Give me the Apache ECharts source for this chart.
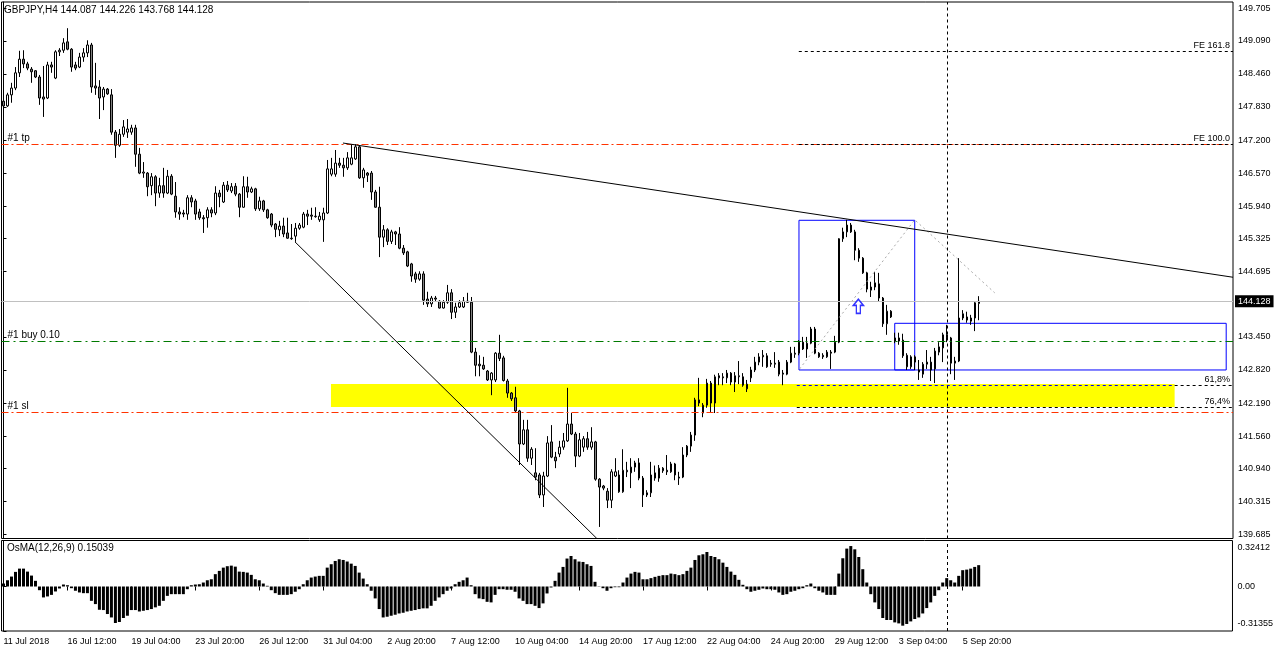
<!DOCTYPE html>
<html><head><meta charset="utf-8">
<script src="https://cdn.jsdelivr.net/npm/echarts@6/dist/echarts.min.js"></script>
<style>html,body{margin:0;padding:0;background:#fff;}#c{width:1276px;height:652px;}</style>
</head><body><div id="c"></div>
<script>
// ---- data ----
const symbolTitle = 'GBPJPY,H4 144.087 144.226 143.768 144.128';
const osmaTitle = 'OsMA(12,26,9) 0.15039';
const timeTicks = ['11 Jul 2018','16 Jul 12:00','19 Jul 04:00','23 Jul 20:00','26 Jul 12:00','31 Jul 04:00','2 Aug 20:00','7 Aug 12:00','10 Aug 04:00','14 Aug 20:00','17 Aug 12:00','22 Aug 04:00','24 Aug 20:00','29 Aug 12:00','3 Sep 04:00','5 Sep 20:00'];
const priceTicks = [149.705,149.090,148.460,147.830,147.200,146.570,145.940,145.325,144.695,143.450,142.820,142.190,141.560,140.940,140.315,139.685];
const osmaTicks = [-0.31355, 0, 0.32412];

const open = [147.94,147.85,148.06,148.19,148.48,148.74,148.65,148.55,148.52,148.40,
148.02,148.00,148.63,148.38,148.88,148.91,149.07,148.93,148.63,148.59,
148.78,148.86,149.01,148.23,148.21,148.02,148.17,148.06,147.35,147.10,
147.31,147.35,147.35,147.43,146.93,146.57,146.57,146.33,146.50,146.19,
146.33,146.19,146.51,146.13,145.83,145.81,145.79,146.10,146.04,145.83,
145.72,145.72,145.87,145.81,146.19,146.02,146.34,146.23,146.32,146.17,
145.92,146.31,146.21,146.27,145.89,146.04,145.87,145.79,145.60,145.49,
145.56,145.43,145.33,145.37,145.52,145.54,145.79,145.77,145.74,145.68,
145.68,145.81,146.55,146.55,146.76,146.72,146.67,146.74,146.84,147.07,
146.48,146.57,146.57,146.21,145.92,145.35,145.49,145.27,145.45,145.41,
145.14,145.07,144.84,144.65,144.55,144.65,144.17,144.08,144.19,144.13,
144.00,144.11,144.29,143.92,144.02,144.02,144.13,144.11,143.16,142.93,
142.91,142.80,142.63,142.63,143.14,143.05,142.61,142.38,142.29,142.04,
141.41,141.68,141.14,140.86,140.82,140.44,140.80,141.45,141.16,141.22,
141.35,141.47,141.79,141.60,141.18,141.35,141.51,141.35,141.45,140.74,
140.61,140.51,140.34,140.80,140.82,140.50,140.88,140.86,140.97,141.05,
140.76,140.48,140.48,140.86,140.76,140.90,140.91,140.88,141.03,140.78,
140.78,141.20,141.37,141.58,142.25,142.00,142.15,142.57,142.19,142.67,
142.67,142.67,142.76,142.59,142.69,142.69,142.46,142.67,142.82,142.97,
143.07,143.09,142.93,142.93,142.97,142.74,142.74,142.97,143.12,143.14,
143.35,143.22,143.33,143.60,143.14,143.07,143.07,143.16,143.16,143.35,
145.32,145.45,145.58,145.45,145.10,144.95,144.67,144.34,144.40,144.46,
144.19,143.70,143.94,143.37,143.43,143.39,143.10,142.88,143.07,142.82,
142.74,142.93,142.97,142.84,143.16,143.24,143.49,143.43,142.95,142.99,
143.81,143.77,143.81,143.81,144.087];

const close = [147.85,148.06,148.19,148.48,148.74,148.65,148.57,148.50,148.40,148.00,
147.98,148.63,148.59,148.88,148.91,149.05,148.93,148.59,148.57,148.78,
148.86,149.01,148.21,148.19,148.00,148.17,148.08,147.35,147.10,147.31,
147.45,147.41,147.43,146.93,146.57,146.59,146.31,146.50,146.19,146.33,
146.19,146.51,146.17,145.83,145.79,145.79,146.10,146.02,145.79,145.72,
145.70,145.87,145.81,146.19,146.12,146.34,146.25,146.31,146.17,145.92,
146.31,146.21,146.27,145.89,146.04,145.87,145.72,145.58,145.50,145.56,
145.41,145.33,145.32,145.52,145.58,145.79,145.75,145.75,145.75,145.75,
145.81,146.65,146.65,146.76,146.72,146.67,146.86,146.86,147.07,146.48,
146.63,146.53,146.21,145.92,145.35,145.49,145.27,145.45,145.41,145.14,
145.05,144.80,144.61,144.55,144.65,144.15,144.08,144.19,144.17,144.00,
144.11,144.29,143.92,144.02,144.10,144.13,144.11,143.16,142.91,142.90,
142.84,142.63,142.76,143.14,143.04,142.62,142.38,142.27,142.04,141.41,
141.68,141.14,141.31,140.78,140.44,140.80,141.43,141.16,141.09,141.35,
141.47,141.79,141.60,141.18,141.49,141.51,141.35,141.45,140.74,140.59,
140.57,140.34,140.88,140.88,140.50,140.91,140.91,140.97,141.05,140.76,
140.44,140.44,140.82,140.76,140.95,140.95,140.88,141.03,140.82,140.76,
141.20,141.37,141.58,142.25,142.19,142.15,142.57,142.19,142.69,142.71,
142.69,142.76,142.59,142.71,142.71,142.53,142.55,142.82,142.97,143.07,
143.10,142.88,142.95,142.95,142.74,142.76,142.97,143.14,143.14,143.35,
143.22,143.33,143.60,143.14,143.07,143.10,143.16,143.14,143.35,145.32,
145.45,145.58,145.45,145.10,144.95,144.67,144.36,144.40,144.48,144.19,
143.70,143.94,143.83,143.43,143.37,143.09,142.88,143.07,142.97,142.78,
142.93,142.97,142.82,143.18,143.26,143.49,143.43,142.95,142.99,143.81,
143.89,143.83,143.75,144.10,144.128];

const low = [147.73,147.83,147.91,148.15,148.40,148.57,148.53,148.29,148.38,147.87,
147.64,147.98,148.48,148.36,148.80,148.86,148.91,148.50,148.53,148.57,
148.69,148.78,148.10,148.06,147.60,147.77,148.06,147.30,146.86,147.07,
147.26,147.24,147.30,146.69,146.55,146.48,146.13,146.15,145.94,146.10,
146.10,146.17,146.15,145.72,145.68,145.73,145.68,145.92,145.68,145.68,
145.43,145.53,145.73,145.77,145.92,146.00,146.21,146.19,146.13,145.73,
145.91,146.10,146.19,145.85,145.85,145.83,145.70,145.54,145.35,145.37,
145.35,145.32,145.30,145.26,145.49,145.52,145.58,145.68,145.72,145.64,
145.26,145.79,146.51,146.50,146.67,146.50,146.63,146.72,146.82,146.46,
146.29,146.40,146.06,145.91,144.97,145.16,145.20,145.22,145.20,145.12,
145.01,144.78,144.50,144.48,144.52,144.06,144.02,144.02,144.12,143.99,
143.99,144.08,143.79,143.81,144.00,144.00,144.10,143.14,142.70,142.70,
142.82,142.61,142.34,142.59,142.99,142.60,142.29,142.23,142.00,141.01,
141.39,141.07,141.01,140.72,140.38,140.21,140.78,141.14,140.95,141.16,
141.30,141.45,141.58,140.97,141.16,141.26,141.30,141.30,140.71,139.83,
140.53,140.19,140.19,140.78,140.48,140.48,140.78,140.57,140.88,140.72,
140.21,140.40,140.40,140.71,140.69,140.86,140.82,140.86,140.72,140.63,
140.76,141.16,141.26,141.47,142.13,141.92,142.10,142.02,142.00,142.53,
142.53,142.57,142.53,142.40,142.55,142.50,142.40,142.59,142.78,142.91,
142.88,142.86,142.88,142.86,142.70,142.53,142.72,142.95,143.05,143.10,
143.20,143.05,143.31,143.12,143.05,143.03,143.05,142.84,143.14,143.33,
145.26,145.35,145.43,144.91,144.88,144.65,144.30,144.21,144.34,144.13,
143.64,143.49,143.81,143.33,143.30,143.05,142.82,142.84,142.82,142.63,
142.67,142.84,142.61,142.57,143.10,142.97,143.35,142.74,142.63,142.97,
143.77,143.72,143.68,143.56,143.768];

const high = [148.13,148.10,148.29,148.59,148.90,148.91,148.69,148.59,148.53,148.44,
148.61,148.69,148.69,148.91,148.95,149.14,149.33,148.95,148.69,148.86,
148.95,149.10,149.05,148.67,148.34,148.21,148.19,148.17,147.39,147.41,
147.58,147.60,147.49,147.49,147.05,146.78,146.59,146.57,146.53,146.48,
146.67,146.63,146.55,146.40,145.92,145.87,146.15,146.15,146.08,145.89,
145.77,145.92,145.92,146.32,146.25,146.40,146.42,146.38,146.38,146.19,
146.51,146.50,146.31,146.29,146.12,146.06,145.89,145.81,145.62,145.66,
145.72,145.72,145.60,145.62,145.62,145.83,145.87,145.91,145.92,145.83,
145.91,146.82,146.86,147.01,146.86,146.86,146.97,147.12,147.12,147.10,
146.67,146.59,146.61,146.25,146.31,145.58,145.52,145.49,145.47,145.54,
145.20,145.09,144.86,144.69,144.70,144.70,144.31,144.23,144.23,144.15,
144.15,144.44,144.36,144.10,144.15,144.21,144.29,144.21,143.24,143.10,
143.07,142.82,142.78,143.16,143.49,143.09,142.65,142.40,142.50,142.06,
141.87,141.87,141.35,141.33,140.86,140.88,141.56,141.77,141.26,141.47,
141.62,142.48,142.00,141.64,141.62,141.56,141.64,141.73,141.47,140.76,
140.63,140.57,140.93,141.14,140.91,141.31,141.07,141.14,141.09,141.14,
140.80,140.53,141.07,141.00,141.01,140.97,141.20,141.07,141.05,140.88,
141.35,141.39,141.64,142.29,142.67,142.19,142.65,142.61,142.73,142.76,
142.76,142.82,142.78,142.78,142.99,142.76,142.63,142.88,143.07,143.14,
143.20,143.14,143.01,143.16,143.01,142.82,143.01,143.26,143.26,143.39,
143.45,143.45,143.64,143.64,143.16,143.14,143.20,143.20,143.47,145.33,
145.53,145.68,145.62,145.49,145.14,144.97,144.69,144.50,144.69,144.67,
144.21,144.06,143.96,143.53,143.53,143.51,143.14,143.10,143.10,143.01,
142.97,143.20,143.07,143.24,143.35,143.53,143.68,143.45,143.07,144.95,
143.96,143.93,143.87,144.12,144.226];

const osma = [0.021,0.044,0.070,0.103,0.126,0.126,0.105,0.077,0.040,-0.026,
-0.077,-0.070,-0.059,-0.035,-0.014,0.014,0.009,-0.012,-0.030,-0.042,
-0.047,-0.047,-0.101,-0.124,-0.164,-0.166,-0.194,-0.218,-0.257,-0.250,
-0.222,-0.206,-0.166,-0.166,-0.176,-0.171,-0.166,-0.159,-0.147,-0.136,
-0.101,-0.066,-0.054,-0.054,-0.054,-0.054,-0.019,0.009,0.014,0.016,
0.028,0.044,0.051,0.087,0.110,0.133,0.143,0.147,0.140,0.105,
0.103,0.098,0.082,0.051,0.044,0.021,0.005,-0.026,-0.047,-0.059,
-0.059,-0.059,-0.054,-0.037,-0.019,0.016,0.044,0.063,0.070,0.075,
0.075,0.133,0.157,0.180,0.192,0.187,0.176,0.161,0.145,0.098,
0.056,0.016,-0.030,-0.084,-0.159,-0.218,-0.213,-0.206,-0.199,-0.190,
-0.185,-0.176,-0.171,-0.166,-0.159,-0.154,-0.154,-0.136,-0.101,-0.077,
-0.054,-0.030,-0.014,0.016,0.033,0.044,0.063,0.009,-0.054,-0.084,
-0.089,-0.108,-0.112,-0.059,-0.019,-0.019,-0.023,-0.023,-0.037,-0.084,
-0.101,-0.124,-0.124,-0.136,-0.152,-0.119,-0.049,-0.007,0.040,0.098,
0.138,0.197,0.215,0.192,0.176,0.173,0.157,0.145,0.033,-0.002,
-0.012,-0.030,-0.012,-0.005,-0.005,0.028,0.063,0.091,0.103,0.098,
0.051,0.051,0.059,0.068,0.075,0.080,0.080,0.091,0.087,0.080,
0.087,0.110,0.133,0.187,0.220,0.227,0.243,0.215,0.208,0.192,
0.168,0.138,0.105,0.082,0.047,0.012,-0.019,-0.037,-0.030,-0.023,
-0.014,-0.019,-0.019,-0.023,-0.042,-0.059,-0.054,-0.037,-0.030,-0.019,
-0.012,0.009,0.021,-0.012,-0.030,-0.042,-0.059,-0.059,-0.059,0.091,
0.199,0.267,0.285,0.262,0.208,0.122,0.028,-0.054,-0.112,-0.159,
-0.222,-0.236,-0.236,-0.253,-0.260,-0.276,-0.264,-0.246,-0.229,-0.218,
-0.190,-0.152,-0.112,-0.066,-0.026,0.028,0.059,0.044,0.028,0.075,
0.115,0.119,0.126,0.138,0.15039];

// trade / analysis levels (prices)
const tpPrice = 147.115, buyPrice = 143.362, slPrice = 142.010, lastPrice = 144.128;
const fe1618Price = 148.886, fib618Price = 142.524, fib764Price = 142.105;
// drawn objects: [bar position, price]
const trendUpper = [[84.9, 147.143], [307.5, 144.586]];
const trendLower = [[72.9, 145.26], [148.4, 139.61]];
const fePath = [[199.1, 142.84], [227.9, 145.68], [247.9, 144.29]];
const yellowZone = [[81.9, 142.553], [292.9, 142.115]];
const boxA = [[198.95, 145.671], [227.9, 142.82]];
const boxB = [[222.9, 143.709], [305.8, 142.82]];
const fibStart = 198.4, feStart = 198.9, yellowEnd = 292.9;
const arrowPoint = [213.8, 144.033];
const separatorBar = 236.1;

// ---- chart ----
const N = 308;
const FONT = 'Liberation Sans';
const idx = Array.from({length: N}, (_, i) => String(i));
const candles = open.map((o, i) => [o, close[i], low[i], high[i]]);
const isTick = i => i % 16 === 0 && i / 16 < timeTicks.length;
const XMIN = -0.5, XMAX = N - 0.5;
const TRADE_RED = '#ff3300';

const chart = echarts.init(document.getElementById('c'));
const lbl = (txt, pos, size, dist) => ({show: true, formatter: txt, position: pos, color: '#000', fontSize: size, fontFamily: FONT, distance: dist, opacity: 1});
const sepLine = {xAxis: separatorBar, lineStyle: {color: '#000', type: [3, 3], width: 1}};
const seg = (x1, x2, price, style, label) => [{coord: [x1, price], lineStyle: style, label: label || {show: false}}, {coord: [x2, price]}];

chart.setOption({
  animation: false,
  backgroundColor: '#fff',
  textStyle: {fontFamily: FONT},
  title: [
    {text: symbolTitle, left: 4, top: 5, padding: 0, textStyle: {fontSize: 10, fontWeight: 'normal', color: '#000', fontFamily: FONT}},
    {text: osmaTitle, left: 7, top: 543, padding: 0, textStyle: {fontSize: 10, fontWeight: 'normal', color: '#000', fontFamily: FONT}}
  ],
  grid: [
    {left: 1.5, right: 43, top: 2, bottom: 113.5, show: true, borderColor: '#000', borderWidth: 1, backgroundColor: 'transparent'},
    {left: 1.5, right: 43, top: 540.5, bottom: 21, show: true, borderColor: '#000', borderWidth: 1, backgroundColor: 'transparent'}
  ],
  xAxis: [
    {type: 'category', gridIndex: 0, data: idx, show: false},
    {type: 'value', gridIndex: 0, min: XMIN, max: XMAX, show: false},
    {type: 'category', gridIndex: 1, data: idx,
      axisLine: {show: false},
      axisTick: {show: true, interval: (i) => isTick(i), alignWithLabel: true, length: 4, lineStyle: {color: '#000'}},
      axisLabel: {interval: (i) => isTick(i), formatter: (v, i) => isTick(i) ? timeTicks[i / 16] : '', align: 'left', fontSize: 9, color: '#000', margin: 6, fontFamily: FONT}},
    {type: 'value', gridIndex: 1, min: XMIN, max: XMAX, show: false}
  ],
  yAxis: [
    {type: 'value', gridIndex: 0, position: 'right', min: 139.61, max: 149.829, scale: true,
      splitLine: {show: false},
      axisLine: {show: true, lineStyle: {color: '#000'}},
      axisTick: {show: true, length: 3, customValues: priceTicks, lineStyle: {color: '#000'}},
      axisLabel: {customValues: priceTicks, formatter: v => v.toFixed(3), fontSize: 9, color: '#000', margin: 5, fontFamily: FONT}},
    {type: 'value', gridIndex: 1, position: 'right', min: osmaTicks[0], max: osmaTicks[2],
      splitLine: {show: false},
      axisLine: {show: true, lineStyle: {color: '#000'}},
      axisTick: {show: true, length: 3, customValues: osmaTicks, lineStyle: {color: '#000'}},
      axisLabel: {customValues: osmaTicks, fontSize: 9, color: '#000', margin: 5, fontFamily: FONT,
        formatter: v => v > 0 ? '{t|' + v.toFixed(5) + '}' : (v < 0 ? '{b|' + v.toFixed(5) + '}' : '0.00'),
        rich: {t: {padding: [15, 0, 0, 0], fontSize: 9, color: '#000', fontFamily: FONT}, b: {padding: [0, 0, 14, 0], fontSize: 9, color: '#000', fontFamily: FONT}}}}
  ],
  series: [
    { // background objects: yellow zone, bid line, separator
      type: 'line', name: 'levels', xAxisIndex: 1, yAxisIndex: 0, z: 1, data: [], silent: true, symbol: 'none',
      markArea: {silent: true, itemStyle: {color: '#ffff00'}, data: [[{coord: yellowZone[0]}, {coord: yellowZone[1]}]]},
      markLine: {silent: true, symbol: ['none', 'none'], animation: false, data: [
        seg(XMIN, XMAX, lastPrice, {color: '#c0c0c0', type: 'solid', width: 1},
          {show: true, position: 'end', formatter: '144.128', color: '#fff', backgroundColor: '#000', padding: [2, 3, 1, 3], fontSize: 9, fontFamily: FONT, distance: 2}),
        sepLine
      ]}
    },
    {
      type: 'candlestick', name: 'GBPJPY', xAxisIndex: 0, yAxisIndex: 0, z: 3, data: candles, barWidth: 2,
      itemStyle: {color: '#ffffff', color0: '#808080', borderColor: '#000000', borderColor0: '#000000', borderWidth: 1}
    },
    { // trade levels (take profit, entry, stop loss)
      type: 'line', name: 'trade levels', xAxisIndex: 1, yAxisIndex: 0, z: 4, data: [], silent: true, symbol: 'none',
      markLine: {silent: true, symbol: ['none', 'none'], animation: false, data: [
        seg(XMIN, XMAX, tpPrice, {color: TRADE_RED, type: [7, 3, 2, 3], width: 1, opacity: 1}, lbl('#1 tp', 'insideStartTop', 10, [6, 1])),
        seg(XMIN, XMAX, buyPrice, {color: '#007a00', type: [8, 4, 2, 4], width: 1, opacity: 1}, lbl('#1 buy 0.10', 'insideStartTop', 10, [6, 1])),
        seg(XMIN, XMAX, slPrice, {color: TRADE_RED, type: [7, 3, 2, 3], width: 1, opacity: 1}, lbl('#1 sl', 'insideStartTop', 10, [6, 1]))
      ]}
    },
    { // fibonacci levels
      type: 'line', name: 'fibo levels', xAxisIndex: 1, yAxisIndex: 0, z: 5, data: [], silent: true, symbol: 'none',
      markLine: {silent: true, symbol: ['none', 'none'], animation: false, data: [
        seg(feStart, XMAX, fe1618Price, {color: '#000', type: [3, 3], width: 1}, lbl('FE 161.8', 'insideEndTop', 9, [3, 1])),
        seg(feStart, XMAX, tpPrice, {color: '#000', type: [3, 3], width: 1}, lbl('FE 100.0', 'insideEndTop', 9, [3, 1])),
        seg(fibStart, yellowEnd, fib618Price, {color: '#0000ff', type: [3, 3], width: 1}),
        seg(yellowEnd, XMAX, fib618Price, {color: '#000', type: [3, 3], width: 1}, lbl('61,8%', 'insideEndTop', 9, [3, 1])),
        seg(fibStart, XMAX, fib764Price, {color: '#000', type: [3, 3], width: 1}, lbl('76,4%', 'insideEndTop', 9, [3, 1]))
      ]}
    },
    {
      type: 'line', name: 'trend upper', xAxisIndex: 1, yAxisIndex: 0, z: 5, data: trendUpper, symbol: 'none', silent: true,
      lineStyle: {color: '#000', width: 1},
      markArea: {silent: true, itemStyle: {color: 'rgba(0,0,0,0)', borderColor: '#0000ff', borderWidth: 1},
        data: [[{coord: boxA[0]}, {coord: boxA[1]}], [{coord: boxB[0]}, {coord: boxB[1]}]]}
    },
    {
      type: 'line', name: 'trend lower', xAxisIndex: 1, yAxisIndex: 0, z: 5, data: trendLower, symbol: 'none', silent: true,
      lineStyle: {color: '#000', width: 1}
    },
    {
      type: 'line', name: 'FE', xAxisIndex: 1, yAxisIndex: 0, z: 4, data: fePath, symbol: 'none', silent: true,
      lineStyle: {color: '#a9a9a9', width: 1, type: [2, 3]}
    },
    {
      type: 'scatter', name: 'arrow', xAxisIndex: 1, yAxisIndex: 0, z: 6, data: [arrowPoint], silent: true,
      symbol: 'path://M5,0 L10,6 L7,6 L7,14 L3,14 L3,6 L0,6 Z', symbolSize: [10, 14],
      itemStyle: {color: '#ffffff', borderColor: '#0000ff', borderWidth: 1.5}
    },
    {
      type: 'bar', name: 'OsMA', xAxisIndex: 2, yAxisIndex: 1, data: osma, barWidth: 3, z: 3,
      itemStyle: {color: '#000'}
    },
    {
      type: 'line', name: 'separator', xAxisIndex: 3, yAxisIndex: 1, z: 4, data: [], silent: true, symbol: 'none',
      markLine: {silent: true, symbol: ['none', 'none'], label: {show: false}, data: [sepLine]}
    }
  ]
});
</script></body></html>
